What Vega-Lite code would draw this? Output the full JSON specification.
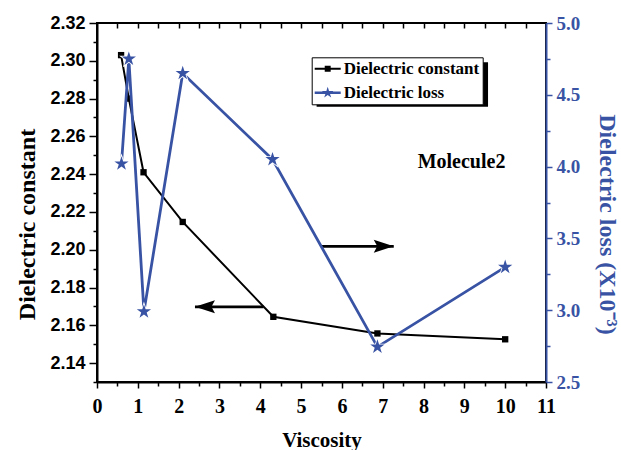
{
  "$schema": "https://vega.github.io/schema/vega-lite/v6.json",
  "width": 449,
  "height": 359,
  "autosize": {"type": "none"},
  "padding": {"left": 97, "top": 23, "right": 75, "bottom": 68},
  "background": "white",
  "config": {
    "view": {"stroke": "black", "strokeWidth": 2},
    "axis": {"grid": false, "labelOverlap": false, "labelFlush": false, "labelBound": false, "tickCount": 100}
  },
  "datasets": {
    "pts": [
      {"viscosity": 0.59, "series": "Dielectric constant", "value": 2.303},
      {"viscosity": 0.78, "series": "Dielectric constant", "value": 2.280},
      {"viscosity": 1.14, "series": "Dielectric constant", "value": 2.241},
      {"viscosity": 2.1, "series": "Dielectric constant", "value": 2.2147},
      {"viscosity": 4.32, "series": "Dielectric constant", "value": 2.1645},
      {"viscosity": 6.87, "series": "Dielectric constant", "value": 2.1557},
      {"viscosity": 10.0, "series": "Dielectric constant", "value": 2.1526},
      {"viscosity": 0.6, "series": "Dielectric loss", "value": 4.02},
      {"viscosity": 0.78, "series": "Dielectric loss", "value": 4.75},
      {"viscosity": 1.15, "series": "Dielectric loss", "value": 2.99},
      {"viscosity": 2.1, "series": "Dielectric loss", "value": 4.65},
      {"viscosity": 4.3, "series": "Dielectric loss", "value": 4.05},
      {"viscosity": 6.87, "series": "Dielectric loss", "value": 2.745},
      {"viscosity": 10.0, "series": "Dielectric loss", "value": 3.30}
    ],
    "arrows": [
      {"viscosity": 5.51, "viscosity2": 7.27, "value": 2.2018, "dir": "right"},
      {"viscosity": 4.08, "viscosity2": 2.4, "value": 2.1698, "dir": "left"}
    ],
    "notes": [
      {"viscosity": 8.93, "value": 2.2466, "text": "Molecule2"}
    ]
  },
  "layer": [
    {
      "layer": [
        {
          "data": {"name": "pts"},
          "transform": [{"filter": "datum.series == 'Dielectric constant'"}],
          "mark": {"type": "line", "strokeWidth": 2},
          "encoding": {
            "x": {
              "field": "viscosity", "type": "quantitative",
              "scale": {"domain": [0, 11], "nice": false, "zero": false},
              "axis": {
                "orient": "bottom", "title": "Viscosity",
                "values": [0,1,2,3,4,5,6,7,8,9,10,11], "tickCount": 100, "format": "d",
                "tickSize": 6, "tickColor": "black", "tickWidth": 1.5,
                "domainColor": "black", "domainWidth": 2,
                "labelFont": "Liberation Serif", "labelFontSize": 20, "labelFontWeight": "bold", "labelColor": "black",
                "labelPadding": 8,
                "titleFont": "Liberation Serif", "titleFontSize": 21, "titleFontWeight": "bold", "titleColor": "black",
                "titlePadding": 13
              }
            },
            "y": {
              "field": "value", "type": "quantitative",
              "scale": {"domain": [2.13, 2.32], "nice": false, "zero": false},
              "axis": {
                "orient": "left", "title": "Dielectric constant",
                "values": [2.14,2.16,2.18,2.2,2.22,2.24,2.26,2.28,2.3,2.32], "tickCount": 100,
                "format": ".2f",
                "tickSize": 8, "tickColor": "black", "tickWidth": 1.5,
                "domainColor": "black", "domainWidth": 2,
                "labelFont": "Liberation Sans", "labelFontSize": 18, "labelFontWeight": "bold", "labelColor": "black",
                "labelPadding": 4,
                "titleFont": "Liberation Serif", "titleFontSize": 24, "titleFontWeight": "bold", "titleColor": "black",
                "titlePadding": 10, "titleY": 201
              }
            },
            "color": {
              "field": "series", "type": "nominal",
              "scale": {"domain": ["Dielectric constant", "Dielectric loss"], "range": ["black", "#3953a4"]},
              "legend": {
                "title": null, "orient": "none", "legendX": 214.7, "legendY": 34.3,
                "padding": 3, "rowPadding": 6,
                "strokeColor": "black", "fillColor": "white",
                "labelFont": "Liberation Serif", "labelFontSize": 17, "labelFontWeight": "bold", "labelColor": "black",
                "labelOffset": 12, "labelLimit": 300,
                "symbolSize": 289, "symbolOpacity": 1, "symbolStrokeWidth": 0,
                "encode": {
                  "symbols": {
                    "update": {
                      "shape": {"signal": "datum.value == 'Dielectric constant' ? 'M-1,-0.12H2.06V0.12H-1Z M0.18,-0.35H0.88V0.35H0.18Z' : 'M-1,-0.15H2.06V0.15H-1Z M0.53,-0.7L0.687,-0.216L1.196,-0.216L0.784,0.083L0.941,0.566L0.53,0.267L0.119,0.566L0.276,0.083L-0.136,-0.216L0.373,-0.216Z'"},
                      "fill": {"signal": "datum.value == 'Dielectric constant' ? 'black' : '#3953a4'"},
                      "stroke": {"value": "transparent"},
                      "opacity": {"value": 1}
                    }
                  }
                }
              }
            }
          }
        },
        {
          "data": {"name": "pts"},
          "transform": [{"filter": "datum.series == 'Dielectric constant'"}],
          "mark": {"type": "point", "shape": "square", "filled": true, "size": 40, "color": "black", "opacity": 1},
          "encoding": {
            "x": {"field": "viscosity", "type": "quantitative"},
            "y": {"field": "value", "type": "quantitative"}
          }
        },
        {
          "data": {"name": "arrows"},
          "mark": {"type": "rule", "color": "black", "strokeWidth": 2.8},
          "encoding": {
            "x": {"field": "viscosity", "type": "quantitative"},
            "x2": {"field": "viscosity2"},
            "y": {"field": "value", "type": "quantitative"}
          }
        },
        {
          "data": {"name": "arrows"},
          "mark": {"type": "point", "filled": true, "size": 100, "color": "black", "opacity": 1},
          "encoding": {
            "x": {"field": "viscosity2", "type": "quantitative"},
            "y": {"field": "value", "type": "quantitative"},
            "shape": {
              "field": "dir", "type": "nominal",
              "scale": {"domain": ["left", "right"], "range": ["M4,-1.3L0,0L4,1.3L3.3,0Z", "M-4,-1.3L0,0L-4,1.3L-3.3,0Z"]},
              "legend": null
            }
          }
        },
        {
          "data": {"name": "notes"},
          "mark": {"type": "text", "font": "Liberation Serif", "fontSize": 20, "fontWeight": "bold", "color": "black", "align": "center", "baseline": "middle"},
          "encoding": {
            "x": {"field": "viscosity", "type": "quantitative"},
            "y": {"field": "value", "type": "quantitative"},
            "text": {"field": "text"}
          }
        },
        {
          "data": {"name": "notes"},
          "mark": {"type": "rect", "color": "black"},
          "encoding": {
            "x": {"datum": 5.38, "type": "quantitative"},
            "x2": {"datum": 9.58},
            "y": {"datum": 2.2992, "type": "quantitative"},
            "y2": {"datum": 2.2757}
          }
        }
      ]
    },
    {
      "data": {"name": "pts"},
      "transform": [{"filter": "datum.series == 'Dielectric loss'"}],
      "layer": [
        {
          "mark": {"type": "line", "strokeWidth": 2.8},
          "encoding": {
            "x": {
              "field": "viscosity", "type": "quantitative",
              "axis": {
                "orient": "top", "title": null, "labels": false, "domain": false, "offset": -5,
                "values": [0.5,1,1.5,2,2.5,3,3.5,4,4.5,5,5.5,6,6.5,7,7.5,8,8.5,9,9.5,10,10.5], "tickCount": 100,
                "tickSize": 5, "tickColor": "black", "tickWidth": 1.5
              }
            },
            "y": {
              "field": "value", "type": "quantitative",
              "scale": {"domain": [2.5, 5.0], "nice": false, "zero": false},
              "axis": {
                "orient": "right", "title": "Dielectric loss (X10⁻³)",
                "values": [2.5,3,3.5,4,4.5,5], "tickCount": 100,
                "format": ".1f",
                "tickSize": 6, "tickColor": "#3953a4", "tickWidth": 1.5,
                "domainColor": "#3953a4", "domainWidth": 2,
                "labelFont": "Liberation Serif", "labelFontSize": 19, "labelFontWeight": "bold", "labelColor": "#3953a4",
                "labelPadding": 4,
                "titleFont": "Liberation Serif", "titleFontSize": 24, "titleFontWeight": "bold", "titleColor": "#3953a4",
                "titlePadding": 15, "titleY": 201
              }
            },
            "color": {"field": "series", "type": "nominal"}
          }
        },
        {
          "mark": {"type": "point", "shape": "M0,-1L0.2245,-0.309L0.9511,-0.309L0.3633,0.118L0.5878,0.809L0,0.382L-0.5878,0.809L-0.3633,0.118L-0.9511,-0.309L-0.2245,-0.309Z", "filled": true, "size": 420, "color": "white", "opacity": 1},
          "encoding": {
            "x": {"field": "viscosity", "type": "quantitative"},
            "y": {"field": "value", "type": "quantitative"}
          }
        },
        {
          "mark": {"type": "point", "shape": "M0,-1L0.2245,-0.309L0.9511,-0.309L0.3633,0.118L0.5878,0.809L0,0.382L-0.5878,0.809L-0.3633,0.118L-0.9511,-0.309L-0.2245,-0.309Z", "filled": true, "size": 225, "color": "#3953a4", "opacity": 1},
          "encoding": {
            "x": {"field": "viscosity", "type": "quantitative"},
            "y": {"field": "value", "type": "quantitative"}
          }
        }
      ]
    },
    {
      "data": {"name": "pts"},
      "transform": [{"filter": "datum.series == 'Dielectric constant'"}],
      "mark": {"type": "point", "opacity": 0},
      "encoding": {
        "x": {
          "field": "viscosity", "type": "quantitative",
          "axis": {
            "orient": "bottom", "title": null, "labels": false, "domain": false,
            "values": [0.5,1.5,2.5,3.5,4.5,5.5,6.5,7.5,8.5,9.5,10.5], "tickCount": 100,
            "tickSize": 4, "tickColor": "black", "tickWidth": 1.5
          }
        },
        "y": {
          "field": "value", "type": "quantitative",
          "scale": {"domain": [2.13, 2.32], "nice": false, "zero": false},
          "axis": {
            "orient": "left", "title": null, "labels": false, "domain": false,
            "values": [2.13,2.15,2.17,2.19,2.21,2.23,2.25,2.27,2.29,2.31], "tickCount": 100,
            "tickSize": 4, "tickColor": "black", "tickWidth": 1.5
          }
        }
      }
    },
    {
      "data": {"name": "pts"},
      "transform": [{"filter": "datum.series == 'Dielectric loss'"}],
      "mark": {"type": "point", "opacity": 0},
      "encoding": {
        "x": {"field": "viscosity", "type": "quantitative", "axis": null},
        "y": {
          "field": "value", "type": "quantitative",
          "scale": {"domain": [2.5, 5.0], "nice": false, "zero": false},
          "axis": {
            "orient": "right", "title": null, "labels": false, "domain": false,
            "values": [2.75,3.25,3.75,4.25,4.75], "tickCount": 100,
            "tickSize": 4, "tickColor": "#3953a4", "tickWidth": 1.5
          }
        }
      }
    }
  ],
  "resolve": {"scale": {"y": "independent"}, "axis": {"x": "independent"}}
}
